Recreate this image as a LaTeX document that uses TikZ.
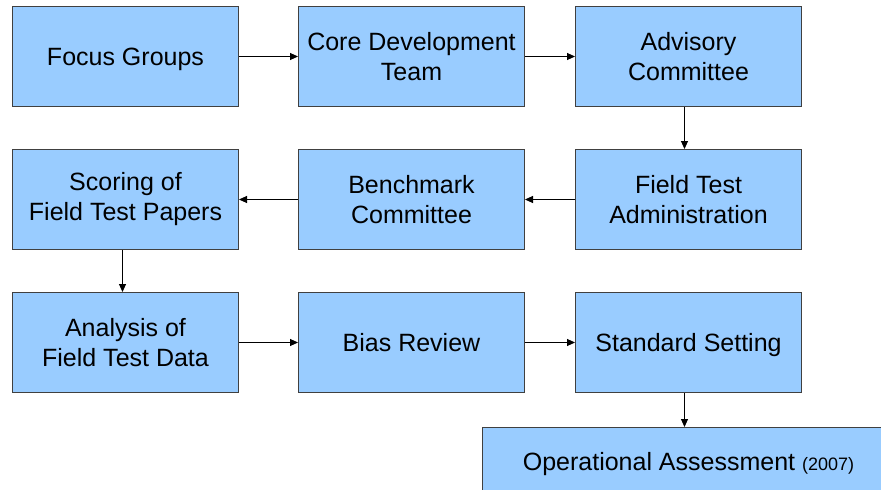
\documentclass[tikz,border=0pt]{standalone}
\usepackage{fontspec}
\setmainfont{Liberation Sans}
\usetikzlibrary{arrows.meta}
\definecolor{boxfill}{HTML}{99CCFF}
\definecolor{boxline}{HTML}{404040}
\begin{document}
\begin{tikzpicture}[x=1pt,y=1pt,
  stepbox/.style={draw=boxline,line width=1pt,fill=boxfill,minimum width=226pt,minimum height=100pt,
    anchor=north west,inner sep=0pt,align=center,font=\fontsize{25}{30}\selectfont},
  oneline/.style={text depth=0pt},
  conn/.style={draw=black,line width=0.9pt,-{Triangle[length=8pt,width=7pt]}}]
\useasboundingbox (0,0) rectangle (881,-490);
\clip (0,0) rectangle (881,-490);
\node[stepbox,oneline] (fg) at (12,-6) {Focus Groups};
\node[stepbox] (cdt) at (298,-6) {Core Development\\Team};
\node[stepbox] (ac) at (575,-6) {Advisory\\Committee};
\node[stepbox] (sc) at (12,-149) {Scoring of\\Field Test Papers};
\node[stepbox] (bc) at (298,-149) {Benchmark\\Committee};
\node[stepbox] (fta) at (575,-149) {Field Test\\Administration};
\node[stepbox] (an) at (12,-292) {Analysis of\\Field Test Data};
\node[stepbox,oneline] (br) at (298,-292) {Bias Review};
\node[stepbox,oneline] (ss) at (575,-292) {Standard Setting};
\node[stepbox,oneline,minimum width=412pt,minimum height=68pt] (op) at (482,-427)
  {Operational Assessment {\fontsize{18}{20}\selectfont (2007)}};
\draw[conn] (fg) -- (cdt);
\draw[conn] (cdt) -- (ac);
\draw[conn] ([xshift=-4pt]ac.south) -- ([xshift=-4pt]fta.north);
\draw[conn] (fta) -- (bc);
\draw[conn] (bc) -- (sc);
\draw[conn] ([xshift=-3pt]sc.south) -- ([xshift=-3pt]an.north);
\draw[conn] (an) -- (br);
\draw[conn] (br) -- (ss);
\draw[conn] ([xshift=-4pt]ss.south) -- ([xshift=-4pt]ss.south |- op.north);
\end{tikzpicture}
\end{document}
